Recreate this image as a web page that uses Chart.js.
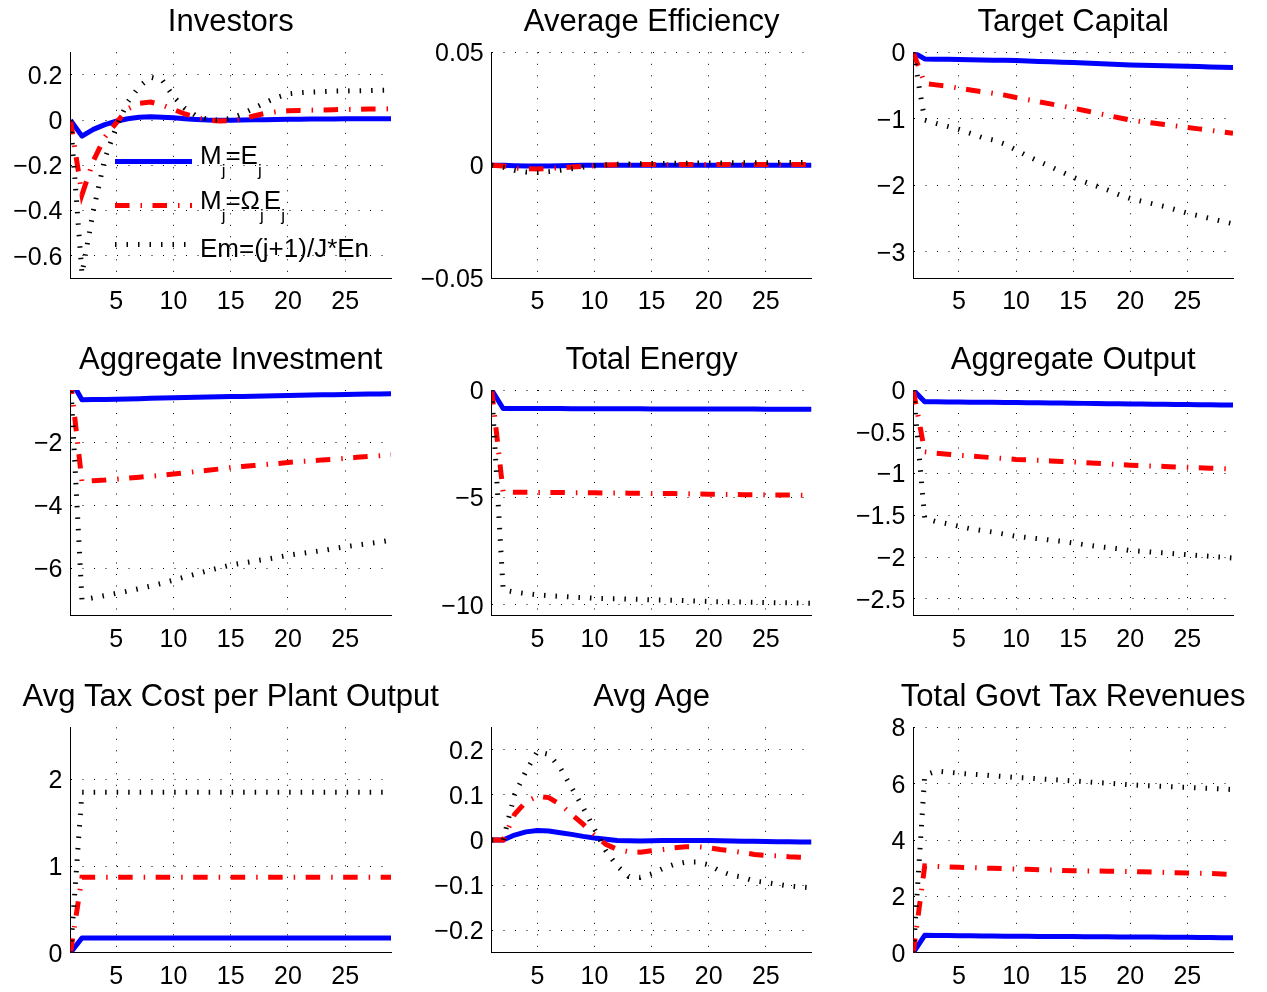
<!DOCTYPE html>
<html>
<head>
<meta charset="utf-8">
<title>Impulse responses</title>
<script src="https://cdn.jsdelivr.net/npm/chart.js@4.4.1/dist/chart.umd.min.js"></script>
<style>
  html, body { margin: 0; padding: 0; background: #ffffff; }
  #fig { position: relative; width: 1267px; height: 992px; overflow: hidden; background: #ffffff; }
  #fig canvas { position: absolute; left: 0; top: 0; }
</style>
</head>
<body>
<div id="fig"></div>
<script>
// ---- data -------------------------------------------------------------
const periods = [1, 2, 3, 4, 5, 6, 7, 8, 9, 10, 11, 12, 13, 14, 15, 16, 17, 18, 19, 20, 21, 22, 23, 24, 25, 26, 27, 28, 29];
const xTicks = [5, 10, 15, 20, 25];
const seriesLabels = ['M_j=E_j', 'M_j=\u03A9_jE_j', 'Em=(j+1)/J*En'];

// Investors
const investorsA = [0, -0.071, -0.041, -0.02, -0.005, 0.006, 0.013, 0.015, 0.013, 0.01, 0.006, 0.003, 0.0, -0.001, -0.001, 0.0, 0.001, 0.002, 0.003, 0.004, 0.004, 0.005, 0.005, 0.005, 0.006, 0.006, 0.006, 0.006, 0.006];
const investorsB = [0, -0.33, -0.18, -0.075, -0.012, 0.05, 0.074, 0.08, 0.067, 0.047, 0.027, 0.012, 0.0, -0.004, -0.003, 0.006, 0.018, 0.03, 0.037, 0.041, 0.043, 0.044, 0.045, 0.046, 0.047, 0.048, 0.049, 0.049, 0.05];
const investorsC = [0, -0.68, -0.40, -0.17, -0.03, 0.08, 0.148, 0.19, 0.178, 0.104, 0.052, 0.018, 0.003, 0.0, 0.007, 0.027, 0.052, 0.077, 0.1, 0.116, 0.121, 0.124, 0.126, 0.128, 0.129, 0.13, 0.131, 0.132, 0.133];
const investorsTicks = [0.2, 0, -0.2, -0.4, -0.6];

// Average Efficiency
const efficiencyA = [0, 0, -0.0002, -0.0003, -0.0003, -0.0003, -0.0002, -0.0001, 0, 0, 0, 0, 0, 0, 0, 0, 0, 0, 0, 0, 0, 0, 0, 0, 0, 0, 0, 0, 0];
const efficiencyB = [0, -0.0003, -0.0012, -0.0015, -0.0016, -0.0014, -0.0011, -0.0008, -0.0005, -0.0002, 0.0001, 0.0002, 0.0002, 0.0003, 0.0003, 0.0003, 0.0003, 0.0003, 0.0003, 0.0003, 0.0003, 0.0003, 0.0004, 0.0004, 0.0004, 0.0004, 0.0004, 0.0004, 0.0004];
const efficiencyC = [0, -0.0008, -0.0022, -0.003, -0.0032, -0.0028, -0.0022, -0.0015, -0.0008, -0.0002, 0.0002, 0.0005, 0.0006, 0.0007, 0.0008, 0.0008, 0.0009, 0.0009, 0.001, 0.001, 0.001, 0.0011, 0.0011, 0.0011, 0.0011, 0.0012, 0.0012, 0.0012, 0.0012];
const efficiencyTicks = [0.05, 0, -0.05];

// Target Capital
const capitalA = [0, -0.1, -0.103, -0.106, -0.109, -0.112, -0.115, -0.118, -0.121, -0.125, -0.131, -0.137, -0.143, -0.149, -0.155, -0.162, -0.169, -0.176, -0.183, -0.19, -0.194, -0.198, -0.202, -0.206, -0.21, -0.215, -0.22, -0.225, -0.23];
const capitalB = [0, -0.47, -0.49, -0.51, -0.54, -0.566, -0.592, -0.618, -0.644, -0.68, -0.712, -0.744, -0.776, -0.808, -0.84, -0.876, -0.912, -0.948, -0.984, -1.02, -1.042, -1.064, -1.086, -1.108, -1.13, -1.152, -1.174, -1.196, -1.22];
const capitalC = [0, -1.02, -1.07, -1.115, -1.16, -1.22, -1.28, -1.32, -1.38, -1.47, -1.56, -1.64, -1.72, -1.8, -1.88, -1.95, -2.01, -2.07, -2.14, -2.2, -2.24, -2.28, -2.32, -2.37, -2.42, -2.46, -2.5, -2.54, -2.58];
const capitalTicks = [0, -1, -2, -3];

// Aggregate Investment
const investmentA = [0, -0.64, -0.635, -0.63, -0.625, -0.615, -0.605, -0.595, -0.585, -0.575, -0.568, -0.561, -0.554, -0.547, -0.54, -0.533, -0.526, -0.519, -0.512, -0.505, -0.498, -0.491, -0.484, -0.477, -0.47, -0.465, -0.46, -0.455, -0.45];
const investmentB = [0, -3.24, -3.21, -3.19, -3.16, -3.13, -3.1, -3.07, -3.04, -3.0, -2.96, -2.92, -2.88, -2.84, -2.79, -2.76, -2.73, -2.7, -2.67, -2.63, -2.6, -2.58, -2.55, -2.53, -2.5, -2.47, -2.44, -2.42, -2.39];
const investmentC = [0, -7.0, -6.93, -6.86, -6.79, -6.72, -6.64, -6.56, -6.47, -6.37, -6.27, -6.17, -6.07, -5.98, -5.89, -5.83, -5.77, -5.71, -5.65, -5.58, -5.53, -5.48, -5.43, -5.37, -5.31, -5.26, -5.21, -5.16, -5.1];
const investmentTicks = [-2, -4, -6];

// Total Energy
const energyA = [0, -0.86, -0.86, -0.86, -0.865, -0.865, -0.865, -0.87, -0.87, -0.87, -0.872, -0.874, -0.876, -0.878, -0.88, -0.881, -0.882, -0.883, -0.884, -0.885, -0.886, -0.887, -0.888, -0.889, -0.89, -0.892, -0.894, -0.897, -0.9];
const energyB = [0, -4.75, -4.76, -4.76, -4.77, -4.77, -4.77, -4.78, -4.78, -4.78, -4.79, -4.79, -4.8, -4.8, -4.81, -4.81, -4.82, -4.83, -4.84, -4.85, -4.86, -4.86, -4.87, -4.87, -4.88, -4.88, -4.89, -4.89, -4.9];
const energyC = [0, -9.3, -9.4, -9.47, -9.53, -9.57, -9.6, -9.63, -9.66, -9.69, -9.7, -9.71, -9.73, -9.74, -9.76, -9.77, -9.78, -9.8, -9.82, -9.84, -9.85, -9.86, -9.87, -9.88, -9.89, -9.9, -9.9, -9.91, -9.92];
const energyTicks = [0, -5, -10];

// Aggregate Output
const outputA = [0, -0.14, -0.142, -0.144, -0.145, -0.146, -0.147, -0.148, -0.149, -0.15, -0.152, -0.154, -0.155, -0.157, -0.158, -0.16, -0.161, -0.163, -0.165, -0.167, -0.168, -0.17, -0.171, -0.172, -0.174, -0.175, -0.177, -0.178, -0.18];
const outputB = [0, -0.74, -0.755, -0.768, -0.78, -0.79, -0.8, -0.81, -0.82, -0.83, -0.836, -0.842, -0.848, -0.854, -0.86, -0.868, -0.876, -0.884, -0.892, -0.9, -0.905, -0.91, -0.915, -0.92, -0.925, -0.93, -0.935, -0.94, -0.945];
const outputC = [0, -1.535, -1.575, -1.6, -1.63, -1.66, -1.68, -1.7, -1.725, -1.75, -1.765, -1.78, -1.795, -1.81, -1.83, -1.85, -1.87, -1.885, -1.9, -1.92, -1.93, -1.94, -1.95, -1.96, -1.97, -1.98, -1.99, -2.0, -2.01];
const outputTicks = [0, -0.5, -1, -1.5, -2, -2.5];

// Avg Tax Cost per Plant Output
const taxCostA = [0, 0.17, 0.17, 0.17, 0.17, 0.17, 0.17, 0.17, 0.17, 0.17, 0.17, 0.17, 0.17, 0.17, 0.17, 0.17, 0.17, 0.17, 0.17, 0.17, 0.17, 0.17, 0.17, 0.17, 0.17, 0.17, 0.17, 0.17, 0.17];
const taxCostB = [0, 0.87, 0.87, 0.87, 0.87, 0.87, 0.87, 0.87, 0.87, 0.87, 0.87, 0.87, 0.87, 0.87, 0.87, 0.87, 0.87, 0.87, 0.87, 0.87, 0.87, 0.87, 0.87, 0.87, 0.87, 0.87, 0.87, 0.87, 0.87];
const taxCostC = [0, 1.85, 1.85, 1.85, 1.85, 1.85, 1.85, 1.85, 1.85, 1.85, 1.85, 1.85, 1.85, 1.85, 1.85, 1.85, 1.85, 1.85, 1.85, 1.85, 1.85, 1.85, 1.85, 1.85, 1.85, 1.85, 1.85, 1.85, 1.85];
const taxCostTicks = [0, 1, 2];

// Avg Age
const ageA = [0, 0, 0.011, 0.018, 0.021, 0.02, 0.016, 0.0125, 0.008, 0.0044, 0.0015, -0.001, -0.0015, -0.002, -0.0015, -0.001, -0.001, -0.001, -0.001, -0.001, -0.0015, -0.002, -0.0025, -0.003, -0.0035, -0.004, -0.004, -0.0045, -0.0045];
const ageB = [0, 0, 0.057, 0.085, 0.097, 0.094, 0.079, 0.057, 0.035, 0.011, -0.0096, -0.021, -0.026, -0.027, -0.024, -0.021, -0.017, -0.015, -0.015, -0.017, -0.021, -0.024, -0.028, -0.032, -0.034, -0.035, -0.037, -0.038, -0.039];
const ageC = [0, 0, 0.1, 0.153, 0.196, 0.19, 0.16, 0.116, 0.072, 0.024, -0.024, -0.058, -0.081, -0.083, -0.075, -0.063, -0.054, -0.049, -0.049, -0.055, -0.069, -0.078, -0.083, -0.091, -0.094, -0.098, -0.102, -0.104, -0.106];
const ageTicks = [0.2, 0.1, 0, -0.1, -0.2];

// Total Govt Tax Revenues
const revenueA = [0, 0.615, 0.612, 0.608, 0.604, 0.6, 0.596, 0.592, 0.588, 0.584, 0.58, 0.578, 0.576, 0.574, 0.572, 0.57, 0.567, 0.564, 0.561, 0.558, 0.556, 0.553, 0.55, 0.547, 0.544, 0.541, 0.538, 0.535, 0.532];
const revenueB = [0, 3.08, 3.06, 3.045, 3.03, 3.018, 3.006, 2.994, 2.982, 2.97, 2.958, 2.946, 2.934, 2.922, 2.91, 2.904, 2.898, 2.892, 2.886, 2.88, 2.87, 2.86, 2.85, 2.84, 2.83, 2.82, 2.81, 2.795, 2.78];
const revenueC = [0, 6.3, 6.45, 6.41, 6.37, 6.34, 6.31, 6.28, 6.25, 6.22, 6.2, 6.17, 6.15, 6.12, 6.1, 6.07, 6.04, 6.02, 5.99, 5.96, 5.94, 5.92, 5.9, 5.88, 5.87, 5.85, 5.83, 5.81, 5.79];
const revenueTicks = [0, 2, 4, 6, 8];

// ---- panels -----------------------------------------------------------
const panels = [
  { title: 'Investors', series: [investorsA, investorsB, investorsC], min: -0.7, max: 0.3, ticks: investorsTicks, col: 0, row: 0, legend: true },
  { title: 'Average Efficiency', series: [efficiencyA, efficiencyB, efficiencyC], min: -0.05, max: 0.05, ticks: efficiencyTicks, col: 1, row: 0 },
  { title: 'Target Capital', series: [capitalA, capitalB, capitalC], min: -3.4, max: 0, ticks: capitalTicks, col: 2, row: 0 },
  { title: 'Aggregate Investment', series: [investmentA, investmentB, investmentC], min: -7.5, max: -0.33, ticks: investmentTicks, col: 0, row: 1 },
  { title: 'Total Energy', series: [energyA, energyB, energyC], min: -10.5, max: 0, ticks: energyTicks, col: 1, row: 1 },
  { title: 'Aggregate Output', series: [outputA, outputB, outputC], min: -2.7, max: 0, ticks: outputTicks, col: 2, row: 1 },
  { title: 'Avg Tax Cost per Plant Output', series: [taxCostA, taxCostB, taxCostC], min: 0, max: 2.6, ticks: taxCostTicks, col: 0, row: 2 },
  { title: 'Avg Age', series: [ageA, ageB, ageC], min: -0.25, max: 0.25, ticks: ageTicks, col: 1, row: 2 },
  { title: 'Total Govt Tax Revenues', series: [revenueA, revenueB, revenueC], min: 0, max: 8, ticks: revenueTicks, col: 2, row: 2 }
];

// ---- layout and style -------------------------------------------------
const W = 1267, H = 992;
const FONT = "'Liberation Sans', Arial, Helvetica, sans-serif";
const TITLE_SIZE = 31, TICK_SIZE = 25, LEGEND_SIZE = 26, SUB_SIZE = 17;
const Y_AXIS_W = 70, X_AXIS_H = 40;
const TITLE_PAD = { top: 3, bottom: 11 };
const TITLE_H = TITLE_SIZE * 1.2 + TITLE_PAD.top + TITLE_PAD.bottom;
const colBox = [{ l: 70.5, r: 391 }, { l: 491.7, r: 811.5 }, { l: 913.3, r: 1233 }];
const rowBox = [{ t: 52.3, b: 278.3 }, { t: 390, b: 615.7 }, { t: 727.3, b: 952.7 }];

const lineStyles = [
  { color: '#0000ff', width: 5, dash: [], order: 2 },
  { color: '#ff0000', width: 5, dash: [14.5, 11, 1.5, 10.5], order: 1 },
  { color: '#000000', width: 5, dash: [1.5, 10], order: 0 }
];

const fmt = v => (v < 0 ? '\u2212' + String(-v) : String(v));

// draws a label with TeX-style single-character subscripts (a_b)
function drawTexLabel(ctx, text, x, y) {
  let cx = x;
  ctx.fillStyle = '#000';
  ctx.textBaseline = 'alphabetic';
  ctx.textAlign = 'left';
  for (let i = 0; i < text.length; i++) {
    let ch = text[i];
    let sub = false;
    if (ch === '_' && i + 1 < text.length) { sub = true; ch = text[++i]; }
    ctx.font = (sub ? SUB_SIZE : LEGEND_SIZE) + 'px ' + FONT;
    ctx.fillText(ch, cx, sub ? y + 12 : y);
    cx += ctx.measureText(ch).width;
  }
}

// in-plot legend without a frame, drawn over the curves
const texLegend = {
  id: 'texLegend',
  afterDatasetsDraw(chart, args, opts) {
    const ctx = chart.ctx;
    chart.data.datasets.forEach((ds, i) => {
      const y = opts.rows[i];
      ctx.save();
      ctx.strokeStyle = ds.borderColor;
      ctx.lineWidth = ds.borderWidth;
      ctx.setLineDash(ds.borderDash || []);
      ctx.lineCap = 'butt';
      ctx.beginPath();
      ctx.moveTo(opts.x0, y);
      ctx.lineTo(opts.x1, y);
      ctx.stroke();
      ctx.restore();
      ctx.save();
      drawTexLabel(ctx, ds.label, opts.textX, opts.baselines[i]);
      ctx.restore();
    });
  }
};

const fig = document.getElementById('fig');

panels.forEach(p => {
  const canvas = document.createElement('canvas');
  canvas.width = W;
  canvas.height = H;
  canvas.style.width = W + 'px';
  canvas.style.height = H + 'px';
  fig.appendChild(canvas);

  const c = colBox[p.col], r = rowBox[p.row];

  const datasets = p.series.map((vals, i) => ({
    label: seriesLabels[i],
    data: periods.map((x, k) => ({ x: x, y: vals[k] })),
    borderColor: lineStyles[i].color,
    borderWidth: lineStyles[i].width,
    borderDash: lineStyles[i].dash,
    borderCapStyle: 'butt',
    borderJoinStyle: i === 0 ? 'round' : 'miter',
    pointRadius: 0,
    tension: 0,
    fill: false,
    order: lineStyles[i].order
  }));

  const gridOpts = { display: true, color: '#000', lineWidth: 1, drawTicks: false };
  const borderOpts = { display: true, color: '#000', width: 1, dash: [1, 10.5] };

  new Chart(canvas, {
    type: 'line',
    data: { datasets },
    plugins: p.legend ? [texLegend] : [],
    options: {
      responsive: false,
      animation: false,
      devicePixelRatio: 1,
      events: [],
      layout: {
        padding: {
          left: c.l - Y_AXIS_W,
          right: W - c.r - Y_AXIS_W,
          top: r.t - TITLE_H,
          bottom: H - r.b - X_AXIS_H
        }
      },
      scales: {
        x: {
          type: 'linear',
          min: 1,
          max: 29,
          grid: gridOpts,
          border: borderOpts,
          afterBuildTicks: s => { s.ticks = xTicks.map(v => ({ value: v })); },
          afterFit: s => { s.height = X_AXIS_H; },
          ticks: {
            autoSkip: false, maxRotation: 0, minRotation: 0, padding: 9,
            color: '#000', font: { family: FONT, size: TICK_SIZE },
            callback: v => fmt(v)
          }
        },
        y: {
          type: 'linear',
          position: 'left',
          min: p.min,
          max: p.max,
          grid: gridOpts,
          border: borderOpts,
          afterBuildTicks: s => { s.ticks = p.ticks.map(v => ({ value: v })); },
          afterFit: s => { s.width = Y_AXIS_W; },
          ticks: {
            autoSkip: false, padding: 8, labelOffset: 2,
            color: '#000', font: { family: FONT, size: TICK_SIZE },
            callback: v => fmt(v)
          }
        },
        // blank right-hand gutter so the title centres over the plot area
        gutter: {
          type: 'linear',
          position: 'right',
          min: 0,
          max: 1,
          grid: { display: false, drawOnChartArea: false },
          border: { display: false },
          ticks: { display: false },
          afterFit: s => { s.width = Y_AXIS_W; }
        }
      },
      plugins: {
        legend: { display: false },
        tooltip: { enabled: false },
        title: {
          display: true,
          text: p.title,
          color: '#000',
          font: { family: FONT, size: TITLE_SIZE, weight: 'normal', lineHeight: 1.2 },
          padding: TITLE_PAD
        },
        texLegend: {
          x0: 115, x1: 192, textX: 200,
          rows: [161.5, 205.5, 244.5],
          baselines: [164, 209, 256.5]
        }
      }
    }
  });
});
</script>
</body>
</html>
